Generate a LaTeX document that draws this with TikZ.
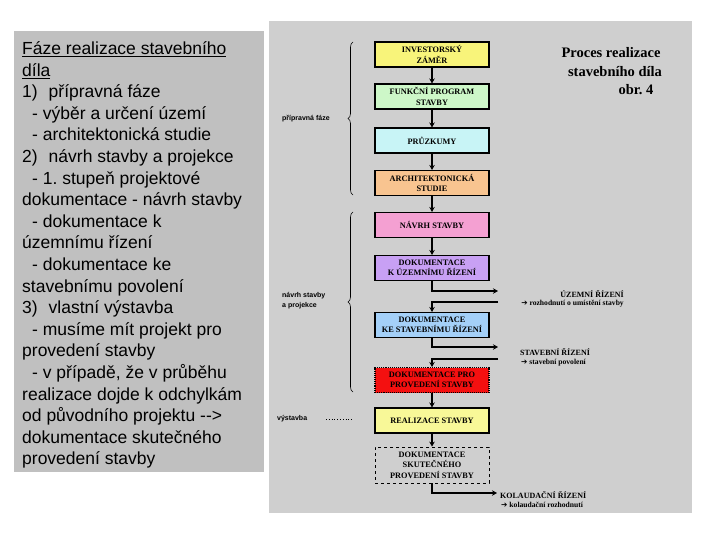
\documentclass[tikz,border=0pt]{standalone}
\usepackage{fontspec}
\setmainfont{Liberation Serif}
\newfontfamily\arialfont{Liberation Sans}
\newfontfamily\symfont{DejaVu Sans}
\usepackage{xcolor}
\definecolor{panelleft}{HTML}{C0C0C0}
\definecolor{panelright}{HTML}{CFCFCF}
\definecolor{zlutafaze}{HTML}{F8F47A}
\definecolor{zelenafaze}{HTML}{CDF7C8}
\definecolor{modrafaze}{HTML}{C8F4F6}
\definecolor{oranzfaze}{HTML}{F8C490}
\definecolor{ruzovafaze}{HTML}{F4A0D2}
\definecolor{fialfaze}{HTML}{C8A0F4}
\definecolor{nebefaze}{HTML}{A4D0F8}
\definecolor{cervenafaze}{HTML}{F41010}
\definecolor{svetlezluta}{HTML}{F8F898}
\usepackage{tikz}
\usetikzlibrary{arrows.meta,positioning,decorations.pathreplacing}
\frenchspacing

\begin{document}
\begin{tikzpicture}[x=1pt,y=-1pt,
  faze/.style={draw=black,line width=1.1pt,minimum width=114pt,minimum height=25pt,
    inner sep=1pt,align=center,font=\fontsize{8.3}{10.5}\selectfont\bfseries},
  sipka/.style={-{Stealth[length=5pt,width=5.5pt]},line width=1.4pt},
  zavorka/.style={decorate,decoration={brace,amplitude=5pt},line width=0.6pt},
  stitek/.style={font=\arialfont\fontsize{7}{10}\selectfont\bfseries,align=left,inner sep=0pt},
  rizeni/.style={font=\fontsize{8}{9}\selectfont\bfseries,inner sep=0pt},
  vysledek/.style={font=\fontsize{7.6}{8}\selectfont\bfseries,inner sep=0pt}]
  \useasboundingbox (0,0) rectangle (720,540);
  \fill[white] (0,0) rectangle (720,540);

  % --- Levy panel s textem ---
  \fill[panelleft] (14,31) rectangle (264,472);
  \node[anchor=north west,align=left,inner sep=0pt,
        font=\arialfont\fontsize{17.5}{21.6}\selectfont] (popis) at (22,41.5)
    {\underline{Fáze realizace stavebního}\\
     \underline{díla}\\
     1)\hspace{11pt}přípravná fáze\\
     \hspace*{10pt}- výběr a určení území\\
     \hspace*{10pt}- architektonická studie\\
     2)\hspace{11pt}návrh stavby a projekce\\
     \hspace*{10pt}- 1. stupeň projektové\\
     dokumentace - návrh stavby\\
     \hspace*{10pt}- dokumentace k\\
     územnímu řízení\\
     \hspace*{10pt}- dokumentace ke\\
     stavebnímu povolení\\
     3)\hspace{11pt}vlastní výstavba\\
     \hspace*{10pt}- musíme mít projekt pro\\
     provedení stavby\\
     \hspace*{10pt}- v případě, že v průběhu\\
     realizace dojde k odchylkám\\
     od původního projektu -->\\
     dokumentace skutečného\\
     provedení stavby};

  % --- Pravy panel (schema) ---
  \fill[panelright] (269,21) rectangle (692,513);
  \node[font=\fontsize{14.5}{16}\selectfont\bfseries,inner sep=0pt] (titul1) at (611,53) {Proces realizace};
  \node[font=\fontsize{14.5}{16}\selectfont\bfseries,inner sep=0pt] (titul2) at (615,72) {stavebního díla};
  \node[font=\fontsize{14.5}{16}\selectfont\bfseries,inner sep=0pt] (titul3) at (636,90) {obr. 4};

  % --- Faze procesu ---
  \node[faze,fill=zlutafaze] (inv) at (432,54.5) {INVESTORSKÝ\\ZÁMĚR};
  \node[faze,fill=zelenafaze] (fun) at (432,96.5) {FUNKČNÍ PROGRAM\\STAVBY};
  \node[faze,fill=modrafaze] (pru) at (432,140.5) {PRŮZKUMY};
  \node[faze,fill=oranzfaze] (arch) at (432,183) {ARCHITEKTONICKÁ\\STUDIE};
  \node[faze,fill=ruzovafaze] (nav) at (432,225) {NÁVRH STAVBY};
  \node[faze,fill=fialfaze] (duz) at (432,268) {DOKUMENTACE\\K ÚZEMNÍMU ŘÍZENÍ};
  \node[faze,fill=nebefaze] (dsr) at (432,325) {DOKUMENTACE\\KE STAVEBNÍMU ŘÍZENÍ};
  \node[faze,fill=cervenafaze,densely dotted] (dpp) at (432,380) {DOKUMENTACE PRO\\PROVEDENÍ STAVBY};
  \node[faze,fill=svetlezluta] (real) at (432,420.5) {REALIZACE STAVBY};
  \node[faze,dashed,line width=0.8pt,minimum height=36pt] (dsk) at (432,465) {DOKUMENTACE\\SKUTEČNÉHO\\PROVEDENÍ STAVBY};

  % --- Navaznost faze -> faze ---
  \foreach \a/\b in {inv/fun,fun/pru,pru/arch,arch/nav,nav/duz,dpp/real,real/dsk}
    \draw[sipka] (\a) -- (\b);

  % --- Rizeni (odbocky vpravo) ---
  \coordinate (uzven) at (498,291);
  \coordinate (uzzpet) at (498,302);
  \coordinate (stven) at (498,347);
  \coordinate (stzpet) at (498,359);
  \coordinate (kolven) at (497,493);
  \draw[sipka] (duz.south) |- (uzven);
  \draw[sipka] (uzzpet) -| (dsr.north);
  \draw[sipka] (dsr.south) |- (stven);
  \draw[sipka] (stzpet) -| (dpp.north);
  \draw[sipka] (dsk.south) |- (kolven);

  \node[rizeni,anchor=east] (uzr) at (624,294) {ÚZEMNÍ ŘÍZENÍ};
  \node[vysledek,anchor=east] (uzv) at (624,303.5) {{\symfont\bfseries ➔} rozhodnutí o umístění stavby};
  \node[rizeni,anchor=west] (str) at (520,352) {STAVEBNÍ ŘÍZENÍ};
  \node[vysledek,anchor=west] (stv) at (521,363) {{\symfont\bfseries ➔} stavební povolení};
  \node[rizeni,anchor=west] (kor) at (500,495) {KOLAUDAČNÍ ŘÍZENÍ};
  \node[vysledek,anchor=west] (kov) at (501,504.5) {{\symfont\bfseries ➔} kolaudační rozhodnutí};

  % --- Zavorky a etapy vlevo ---
  \draw[zavorka] (353,195) -- (353,42);
  \draw[zavorka] (353,392) -- (353,212);
  \node[stitek,anchor=west] (pripr) at (282,119) {přípravná fáze};
  \node[stitek,anchor=west] (navrh) at (282,301) {návrh stavby\\a projekce};
  \node[stitek,anchor=west] (vyst) at (277,419) {výstavba};
  \draw[dotted,line width=0.8pt] (326,419) -- (352,419);
\end{tikzpicture}
\end{document}
